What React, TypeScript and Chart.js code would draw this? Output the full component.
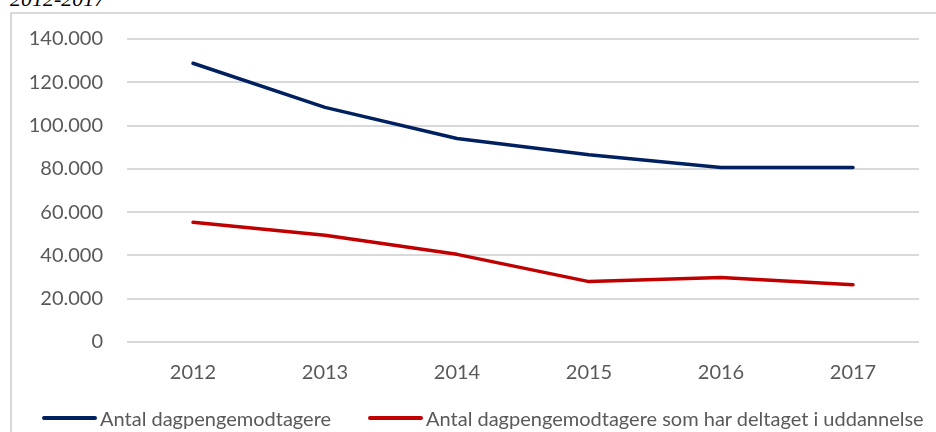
import React, { useEffect, useRef } from "react";
import { Chart, registerables } from "chart.js";

Chart.register(...registerables);

const years = ["2012", "2013", "2014", "2015", "2016", "2017"];
const recipients = [128800, 108400, 94000, 86500, 80600, 80600];
const educated = [55300, 49300, 40500, 27900, 29800, 26500];
const seriesNames = [
  "Antal dagpengemodtagere",
  "Antal dagpengemodtagere som har deltaget i uddannelse",
];
const seriesColors = ["#002060", "#C00000"];
const titleText = "2012-2017";

const fmt = (v: number) => String(Math.round(v)).replace(/\B(?=(\d{3})+(?!\d))/g, ".");

const FONT_FAMILY = "Lato, 'Open Sans', sans-serif";

export default function App() {
  const ref = useRef<HTMLCanvasElement | null>(null);
  useEffect(() => {
    if (!ref.current) return;
    const font = { family: FONT_FAMILY, size: 20 };
    const mk = (i: number, data: number[]) => ({
      label: seriesNames[i],
      data,
      borderColor: seriesColors[i],
      backgroundColor: seriesColors[i],
      borderWidth: 3.5,
      pointRadius: 0,
      borderCapStyle: "round",
      borderJoinStyle: "round",
    });
    const chart = new Chart(ref.current, {
      type: "line",
      data: {
        labels: years,
        datasets: [mk(0, recipients), mk(1, educated)],
      },
      options: {
        animation: false,
        responsive: false,
        maintainAspectRatio: false,
        layout: { padding: { left: 0, right: 17, top: 25, bottom: 28 } },
        plugins: {
          tooltip: { enabled: false },
          legend: { display: false },
        },
        scales: {
          x: {
            offset: true,
            grid: { display: false, drawTicks: false },
            border: { display: false },
            ticks: { font, color: "#595959", padding: 19, maxRotation: 0 },
          },
          y: {
            min: 0,
            max: 140000,
            grid: { color: "#d9d9d9", lineWidth: 2, drawTicks: false },
            border: { display: false },
            ticks: {
              stepSize: 20000,
              font,
              color: "#595959",
              padding: 24,
              callback: (v: any) => fmt(Number(v)),
            },
            afterFit: (s: any) => {
              s.width = 115;
              s.paddingTop = 0;
              s.paddingBottom = 0;
            },
          },
        },
      },
    } as any);
    return () => chart.destroy();
  }, []);

  const legendLefts = [42, 368];

  return (
    <div
      style={{
        position: "absolute",
        left: 0,
        top: 0,
        width: 936,
        height: 432,
        overflow: "hidden",
        background: "#fff",
      }}
    >
      <div
        style={{
          position: "absolute",
          left: 10,
          top: -12,
          fontFamily: "'Liberation Serif', 'Times New Roman', serif",
          fontStyle: "italic",
          fontSize: 22,
          lineHeight: "22px",
          color: "#000",
          whiteSpace: "nowrap",
        }}
      >
        {titleText}
      </div>
      <div
        style={{
          position: "absolute",
          left: 10,
          top: 12,
          width: 940,
          height: 440,
          border: "2px solid #d9d9d9",
          boxSizing: "border-box",
        }}
      />
      <canvas
        ref={ref}
        width={924}
        height={418}
        style={{ position: "absolute", left: 12, top: 14, width: 924, height: 418 }}
      />
      {seriesNames.map((name, i) => (
        <div
          key={name}
          style={{
            position: "absolute",
            left: legendLefts[i],
            top: 406,
            height: 24,
            display: "flex",
            alignItems: "center",
            whiteSpace: "nowrap",
            fontFamily: FONT_FAMILY,
            fontSize: 20,
            color: "#595959",
          }}
        >
          <span
            style={{
              display: "inline-block",
              width: 55,
              height: 4,
              borderRadius: 2,
              background: seriesColors[i],
              marginRight: 3,
            }}
          />
          <span>{name}</span>
        </div>
      ))}
    </div>
  );
}
